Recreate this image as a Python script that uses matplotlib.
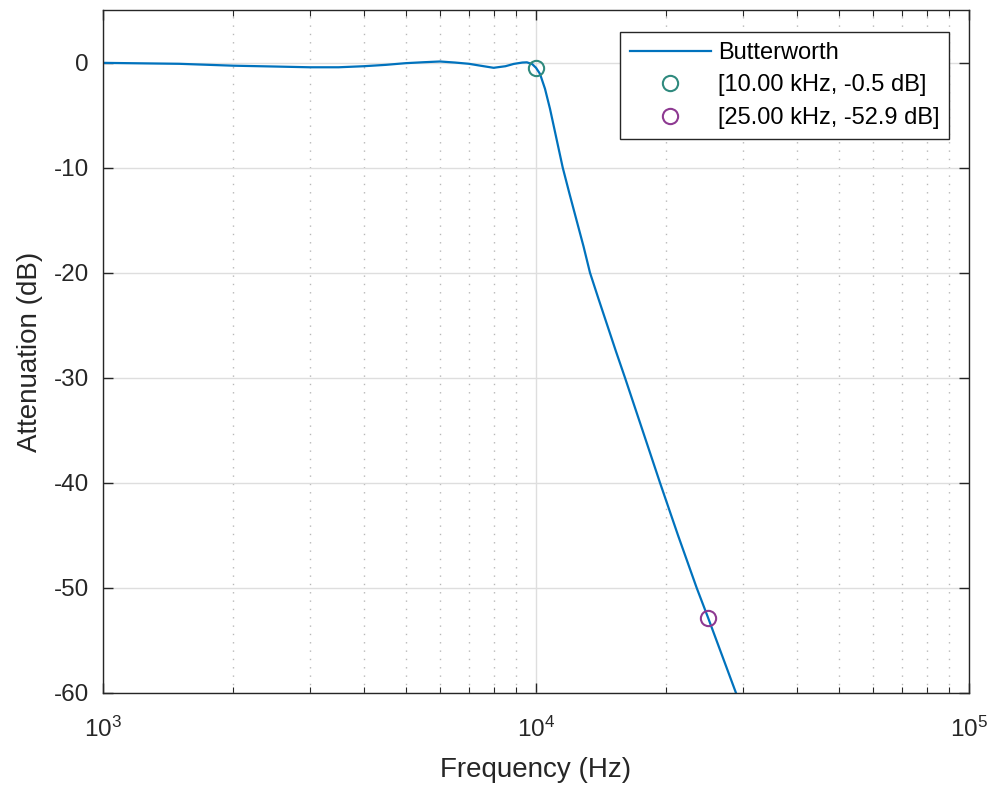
import numpy as np
import matplotlib.pyplot as plt
from matplotlib.ticker import LogLocator, NullFormatter

plt.rcParams['font.family'] = ['Liberation Sans', 'DejaVu Sans']
plt.rcParams['mathtext.fontset'] = 'custom'
plt.rcParams['mathtext.rm'] = 'Liberation Sans'
plt.rcParams['mathtext.it'] = 'Liberation Sans'
plt.rcParams['axes.unicode_minus'] = False

# Frequency response (Hz, dB)
freq = [1000, 1500, 2000, 2500, 3000, 3500, 4000, 4500, 5000, 5500, 6000,
        6500, 7000, 7442, 7980, 8500, 8886, 9300, 9527, 9800, 10000, 10215,
        10490, 10772, 11063, 11527, 11951, 12875, 13325, 13945, 15301, 16052,
        17620, 19338, 21281, 23500, 25000, 28963]
atten = [-0.03, -0.12, -0.3, -0.38, -0.45, -0.45, -0.35, -0.22, -0.06, 0.03, 0.1,
         0.0, -0.12, -0.3, -0.5, -0.35, -0.13, 0.0, 0.02, -0.15, -0.5, -1.08,
         -2.5, -4.4, -6.6, -10.0, -12.5, -17.5, -20.0, -22.5, -27.5, -30.0,
         -35.0, -40.0, -45.0, -50.0, -52.9, -60.0]

# Marked points
mark_f = [10000, 25000]
mark_db = [-0.5, -52.9]
mark_colors = ['#2f8a7e', '#8e3a92']
mark_labels = ['[10.00 kHz, -0.5 dB]', '[25.00 kHz, -52.9 dB]']

fig = plt.figure(figsize=(9.95, 7.88), dpi=100)
ax = fig.add_axes([0.1035, 0.1206, 0.8704, 0.8667])

ax.semilogx(freq, atten, color='#0072BD', lw=1.6, label='Butterworth')
for f, d, c, lab in zip(mark_f, mark_db, mark_colors, mark_labels):
    ax.plot(f, d, 'o', ms=11, mfc='none', mec=c, mew=1.5, ls='none', label=lab)

ax.set_xlim(1e3, 1e5)
ax.set_ylim(-60, 5)
ax.set_yticks(np.arange(-60, 1, 10))
ax.xaxis.set_major_locator(LogLocator(base=10))
ax.xaxis.set_minor_locator(LogLocator(base=10, subs=np.arange(2, 10)))
ax.xaxis.set_minor_formatter(NullFormatter())

ax.grid(True, which='major', color='#dedede', lw=1.0, ls='-')
ax.grid(True, which='minor', axis='x', color='#b8b8b8', lw=1.0, ls=(0, (1, 5)))
ax.set_axisbelow(True)

ax.tick_params(which='both', direction='in', top=True, right=True,
               colors='#262626', labelsize=17.5)
ax.tick_params(which='major', length=7, width=1)
ax.tick_params(which='minor', length=4, width=0.8)
ax.tick_params(axis='x', pad=17)
ax.tick_params(axis='y', pad=10)
for s in ax.spines.values():
    s.set_color('#262626')
    s.set_linewidth(1.0)

ax.set_xlabel('Frequency (Hz)', fontsize=20, color='#262626', labelpad=11)
ax.set_ylabel('Attenuation (dB)', fontsize=20, color='#262626', labelpad=8)

leg = ax.legend(loc='upper right', bbox_to_anchor=(0.977, 0.968), borderaxespad=0,
                fontsize=17, frameon=True, fancybox=False, edgecolor='#262626',
                framealpha=1, handlelength=3.4, handletextpad=0.3,
                borderpad=0.42, labelspacing=0.45)
leg.get_frame().set_linewidth(1.0)

fig.savefig('out.png', dpi=100)
